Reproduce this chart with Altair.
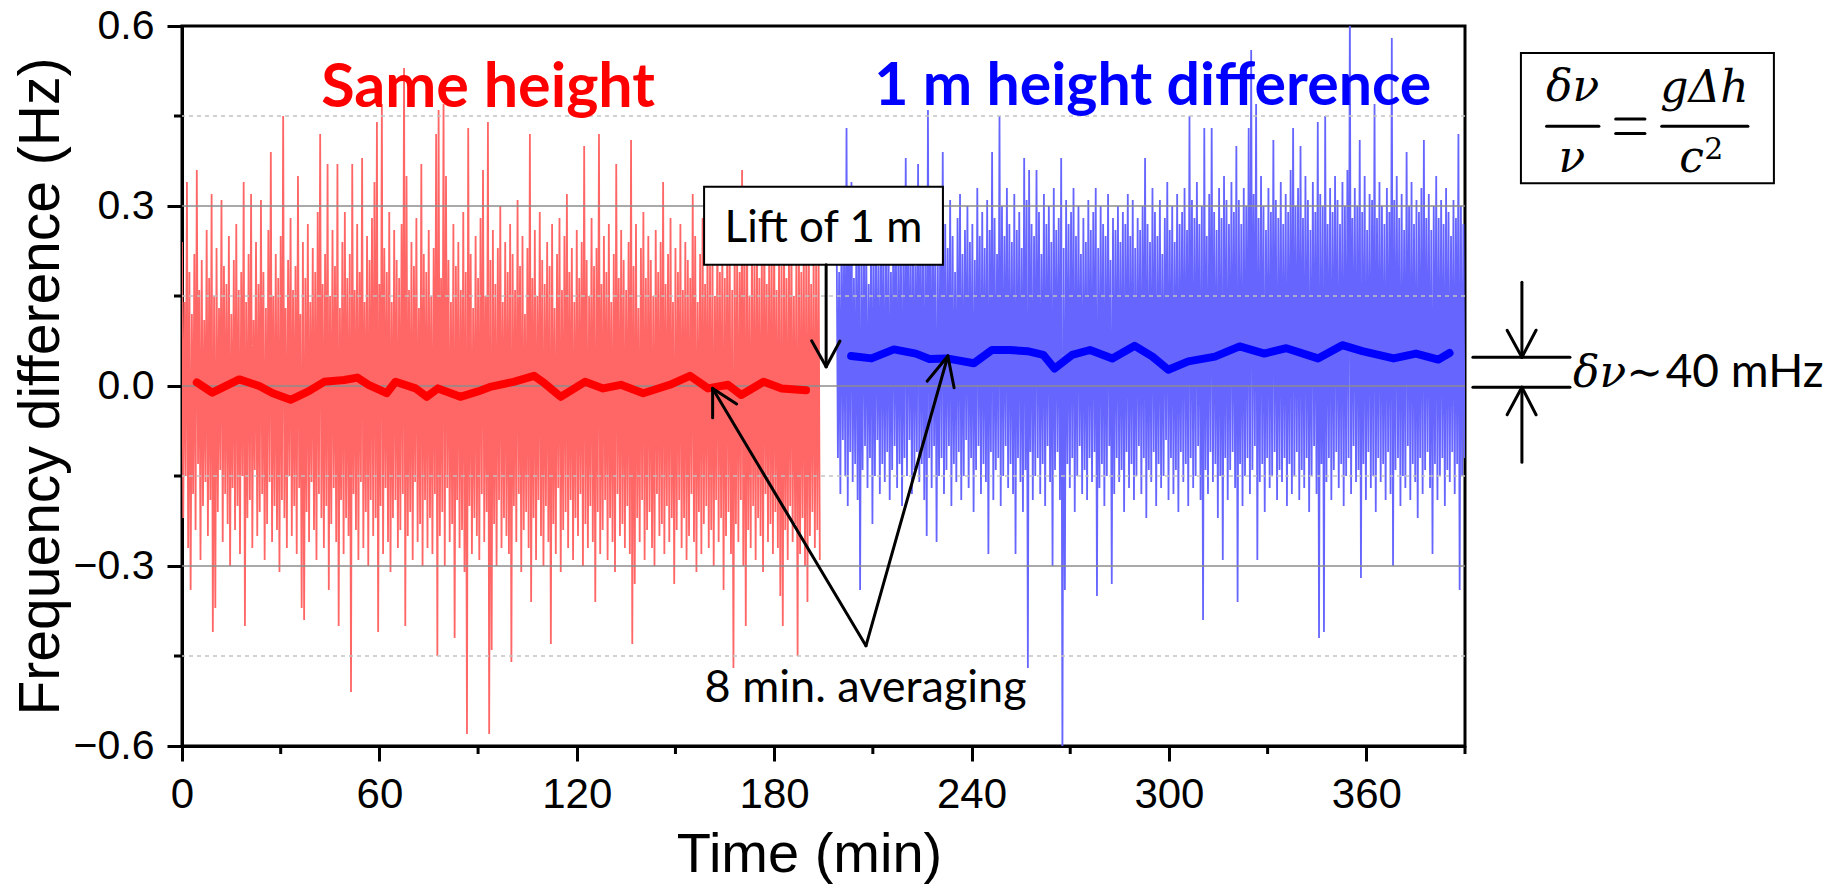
import altair as alt
import pandas as pd

# ---------------- data ----------------
# raw frequency difference, in units of 0.01 Hz; each step gives one high and one low excursion
red_t0 = 0.0
red_dt = 0.75
red_hi = [24, 14, 34, 19, 12, 22, 36, 16, 21, 11, 26, 18, 32, 15, 23, 13, 31, 20, 17, 25,
          12, 21, 27, 16, 19, 34, 14, 22, 32, 11, 24, 17, 31, 19, 13, 26, 39, 15, 22, 18,
          25, 45, 13, 21, 28, 16, 20, 35, 12, 24, 18, 27, 14, 23, 19, 29, 42, 17, 22, 37,
          15, 26, 20, 37, 13, 24, 29, 18, 22, 37, 16, 27, 19, 38, 14, 25, 21, 28, 34, 44,
          17, 47, 23, 19, 29, 14, 26, 21, 18, 27, 53, 35, 16, 24, 20, 28, 13, 37, 22, 19,
          26, 15, 23, 42, 46, 18, 47, 35, 21, 14, 27, 20, 24, 16, 29, 19, 43, 22, 13, 25,
          18, 28, 36, 15, 44, 21, 26, 17, 23, 30, 14, 24, 19, 27, 22, 16, 31, 20, 25, 12,
          23, 42, 18, 26, 15, 29, 21, 17, 24, 20, 27, 13, 22, 28, 16, 25, 32, 19, 23, 14,
          26, 18, 24, 40, 21, 15, 28, 20, 23, 42, 17, 25, 19, 27, 14, 22, 37, 18, 26, 21,
          16, 24, 41, 20, 27, 13, 23, 29, 18, 25, 21, 15, 26, 19, 24, 34, 17, 22, 28, 14,
          23, 19, 27, 16, 24, 21, 18, 32, 25, 14, 22, 28, 17, 26, 20, 23, 15, 29, 19, 24,
          18, 27, 21, 16, 25, 22, 19, 36, 23, 28, 15, 24, 20, 26, 18, 23, 29, 17, 25, 21,
          27, 16, 24, 20, 28, 18, 23, 26, 15, 22, 27, 19, 24, 21, 28, 17, 23, 20, 25]
red_lo = [-22, -15, -27, -34, -18, -24, -13, -29, -20, -16, -25, -19, -41, -37, -21, -14, -26, -18, -23, -30,
          -17, -24, -20, -28, -15, -40, -22, -19, -27, -14, -25, -21, -18, -29, -23, -16, -26, -20, -24, -31,
          -19, -22, -27, -15, -25, -20, -28, -17, -37, -39, -21, -26, -16, -24, -29, -18, -22, -27, -20, -34,
          -23, -17, -26, -40, -19, -28, -22, -25, -51, -18, -24, -29, -16, -27, -21, -30, -19, -25, -22, -41,
          -20, -28, -17, -26, -31, -22, -19, -27, -24, -18, -40, -25, -21, -29, -16, -26, -23, -30, -19, -27,
          -22, -28, -18, -45, -25, -21, -30, -17, -26, -23, -42, -19, -27, -24, -31, -58, -20, -28, -22, -25,
          -29, -18, -26, -21, -58, -44, -23, -30, -19, -27, -22, -25, -28, -46, -20, -26, -18, -31, -24, -21,
          -27, -36, -22, -29, -19, -25, -30, -20, -26, -43, -23, -28, -17, -31, -24, -21, -27, -19, -29, -22,
          -25, -18, -30, -23, -27, -20, -26, -36, -21, -28, -24, -19, -29, -22, -26, -31, -18, -25, -23, -27,
          -20, -28, -43, -33, -22, -26, -19, -29, -24, -21, -27, -30, -18, -25, -23, -28, -20, -26, -22, -33,
          -24, -19, -27, -22, -29, -25, -18, -26, -31, -21, -28, -23, -20, -27, -24, -30, -19, -26, -22, -34,
          -25, -21, -28, -47, -23, -26, -19, -30, -40, -24, -27, -20, -29, -22, -25, -31, -18, -26, -23, -28,
          -21, -27, -35, -40, -24, -29, -20, -26, -23, -45, -28, -22, -30, -36, -25, -21, -27, -24, -29]

blue_t0 = 199.0
blue_dt = 0.75
blue_hi = [25, 19, 30, 22, 43, 27, 34, 18, 26, 31, 21, 28, 24, 17, 29, 23, 27, 20, 30, 25,
           22, 28, 19, 31, 26, 24, 29, 21, 38, 27, 23, 30, 20, 37, 25, 28, 22, 46, 26, 30,
           24, 21, 29, 39, 27, 23, 31, 25, 19, 28, 32, 22, 26, 30, 24, 27, 21, 33, 25, 29,
           23, 31, 26, 39, 28, 22, 45, 30, 25, 33, 27, 24, 32, 26, 29, 23, 38, 31, 36, 27,
           25, 36, 29, 22, 32, 27, 30, 24, 33, 26, 28, 38, 23, 31, 27, 29, 33, 25, 30, 22,
           28, 24, 31, 26, 29, 33, 23, 30, 27, 25, 32, 21, 28, 26, 30, 24, 29, 27, 32, 25,
           31, 23, 28, 26, 30, 38, 27, 24, 33, 29, 25, 31, 22, 28, 34, 26, 30, 24, 32, 27,
           29, 33, 26, 45, 31, 28, 34, 27, 30, 43, 25, 32, 43, 29, 26, 33, 28, 35, 31, 27,
           34, 29, 40, 31, 27, 33, 30, 43, 56, 32, 47, 28, 35, 30, 26, 33, 29, 41, 31, 28,
           34, 27, 32, 29, 36, 43, 30, 33, 40, 28, 35, 31, 26, 34, 29, 44, 32, 30, 45, 27,
           33, 29, 35, 31, 27, 34, 30, 36, 62, 28, 33, 30, 41, 29, 35, 26, 32, 31, 47, 28,
           34, 30, 27, 33, 29, 58, 31, 35, 28, 32, 26, 39, 30, 34, 27, 31, 29, 33, 41, 28,
           32, 26, 30, 35, 28, 31, 27, 33, 29, 25, 31, 28, 42, 30, 27]
blue_lo = [-12, -18, -9, -15, -20, -11, -16, -13, -19, -34, -14, -10, -17, -12, -23, -15, -9, -18, -13, -16,
           -11, -19, -14, -10, -17, -13, -20, -12, -15, -9, -18, -14, -11, -16, -13, -19, -25, -12, -17, -10,
           -26, -15, -12, -18, -14, -10, -20, -13, -16, -11, -19, -15, -9, -17, -12, -21, -14, -10, -18, -13,
           -16, -28, -11, -19, -14, -12, -20, -15, -10, -17, -13, -18, -28, -12, -16, -21, -14, -47, -11, -19,
           -15, -12, -18, -13, -20, -10, -16, -30, -14, -11, -19, -62, -34, -13, -17, -12, -21, -15, -10, -18,
           -14, -19, -12, -16, -11, -35, -17, -13, -20, -15, -10, -33, -18, -12, -16, -14, -21, -11, -17, -13,
           -19, -15, -10, -18, -12, -22, -14, -16, -11, -20, -13, -17, -15, -9, -19, -12, -18, -14, -21, -11,
           -16, -13, -20, -12, -17, -15, -10, -19, -39, -14, -18, -11, -16, -13, -22, -15, -29, -12, -19, -14,
           -11, -17, -36, -13, -20, -15, -12, -18, -14, -10, -29, -16, -13, -21, -12, -17, -15, -11, -19, -14,
           -16, -12, -20, -13, -18, -15, -11, -19, -14, -17, -12, -21, -15, -10, -18, -42, -13, -41, -16, -12,
           -19, -14, -11, -17, -13, -20, -15, -12, -18, -10, -16, -14, -32, -13, -19, -11, -17, -15, -21, -12,
           -16, -13, -19, -11, -18, -30, -14, -12, -20, -15, -17, -10, -19, -13, -16, -22, -12, -18, -14, -11,
           -17, -28, -13, -19, -15, -12, -20, -14, -16, -11, -18, -13, -34, -15, -12]

# 8-minute running averages (Hz)
red_mean_t = [4.5, 9.2, 17.4, 23.5, 27.6, 33.0, 38.4, 43.2, 49.3, 53.3, 56.7, 62.2, 64.9, 71.0, 74.4,
              77.8, 84.6, 90.0, 94.0, 100.8, 107.0, 110.3, 115.1, 122.5, 128.0, 133.4, 140.2, 148.3,
              154.4, 159.9, 166.0, 170.0, 176.8, 182.3, 189.7]
red_mean_v = [0.006, -0.011, 0.011, 0.0, -0.012, -0.023, -0.009, 0.007, 0.010, 0.014, 0.002, -0.012,
              0.007, -0.004, -0.018, -0.004, -0.018, -0.009, -0.001, 0.007, 0.017, 0.004, -0.018, 0.007,
              -0.004, 0.002, -0.012, 0.002, 0.017, -0.004, 0.002, -0.015, 0.007, -0.004, -0.007]
blue_mean_t = [203.4, 209.6, 216.4, 223.1, 227.2, 232.5, 240.7, 246.2, 251.6, 257.0, 261.8, 265.2,
               270.6, 276.0, 282.8, 289.6, 295.0, 299.8, 305.9, 314.0, 321.5, 329.0, 335.7, 345.3,
               352.7, 358.8, 368.3, 375.1, 381.9, 385.3]
blue_mean_v = [0.050, 0.046, 0.061, 0.054, 0.045, 0.046, 0.038, 0.060, 0.060, 0.058, 0.052, 0.029,
               0.052, 0.060, 0.046, 0.067, 0.049, 0.027, 0.041, 0.049, 0.066, 0.054, 0.063, 0.046,
               0.068, 0.058, 0.046, 0.054, 0.044, 0.055]

# axis ticks
x_major = [0, 60, 120, 180, 240, 300, 360]
x_minor = [30, 90, 150, 210, 270, 330, 390]
y_major = [-0.6, -0.3, 0.0, 0.3, 0.6]
y_minor = [-0.45, -0.15, 0.15, 0.45]
grid_major = [-0.3, 0.0, 0.3]

# annotation anchors in data units (min, Hz)
label_same = {"t": 42.3, "v": 0.465, "s": "Same height"}
label_lift = {"t": 210.4, "v": 0.468, "s": "1 m height difference"}
lift_box = {"t": 158.7, "t2": 231.3, "v": 0.332, "v2": 0.202}
lift_text = {"t": 195.0, "v": 0.24, "s": "Lift of 1 m"}
avg_text = {"t": 207.8, "v": -0.527, "s": "8 min. averaging"}
formula_box = {"t": 407.0, "t2": 483.9, "v": 0.555, "v2": 0.338}
seg_x = [195.8, 191.4, 200.0, 207.9, 161.3, 168.6, 207.9, 226.5, 234.7,
         392.4, 392.4, 407.3, 402.8, 411.6, 407.3, 402.8, 411.6,
         414.8, 449.8, 435.8, 435.8]
seg_y = [0.202, 0.0755, 0.075, -0.433, -0.053, -0.030, -0.433, 0.008, -0.003,
         0.048, -0.002, 0.173, 0.093, 0.093, -0.127, -0.048, -0.048,
         0.433, 0.433, 0.445, 0.421]
seg_x2 = [195.8, 195.8, 195.8, 161.3, 161.3, 161.3, 232.8, 232.8, 232.8,
          421.9, 421.9, 407.3, 407.3, 407.3, 407.3, 407.3, 407.3,
          430.7, 476.0, 444.7, 444.7]
seg_y2 = [0.032, 0.032, 0.032, -0.004, -0.004, -0.004, 0.050, 0.050, 0.050,
          0.048, -0.002, 0.048, 0.048, 0.048, -0.002, -0.002, -0.002,
          0.433, 0.433, 0.445, 0.421]
math_t = [422.7, 422.5, 462.8, 458.9]
math_v = [0.475, 0.357, 0.474, 0.357]
math_s = ["δν", "ν", "gΔh", "c"]
sup = {"t": 465.6, "v": 0.379, "s": "2"}
dnu_sym = {"t": 422.8, "v": -0.002, "s": "δν∼"}
dnu_val = {"t": 451.0, "v": -0.002, "s": "40 mHz"}

# ---------------- tables ----------------
def raw_table(t0, dt, hi, lo):
    rows = []
    for i, (h, l) in enumerate(zip(hi, lo)):
        rows.append({"t": t0 + i * dt, "f": h / 100.0})
        rows.append({"t": t0 + i * dt + dt / 2.0, "f": l / 100.0})
    return pd.DataFrame(rows)

red_raw = raw_table(red_t0, red_dt, red_hi, red_lo)
blue_raw = raw_table(blue_t0, blue_dt, blue_hi, blue_lo)
red_mean = pd.DataFrame({"t": red_mean_t, "f": red_mean_v})
blue_mean = pd.DataFrame({"t": blue_mean_t, "f": blue_mean_v})
segs = pd.DataFrame({"x": seg_x, "y": seg_y, "x2": seg_x2, "y2": seg_y2})

XS = alt.Scale(domain=[0, 390], nice=False, zero=False)
YS = alt.Scale(domain=[-0.6, 0.6], nice=False, zero=False)
AX = "Liberation Sans"
CAL = "Lato"
MATH = "DejaVu Serif"

x_axis = alt.Axis(values=x_major, format="d", title="Time (min)", grid=False,
                  labelFont=AX, labelFontSize=42, labelColor="black", labelFlush=False,
                  labelOverlap=False, labelPadding=13, tickSize=15, tickWidth=3, tickColor="black",
                  domainColor="black", domainWidth=3, titleFont=AX, titleFontSize=56,
                  titleFontWeight="normal", titleColor="black", titleX=627, titleY=125,
                  titleBaseline="alphabetic", titleAlign="center")
y_axis = alt.Axis(values=y_major, format=".1f", title="Frequency difference (Hz)", grid=False,
                  labelFont=AX, labelFontSize=41, labelColor="black", labelOverlap=False,
                  labelPadding=13, tickSize=15, tickWidth=3, tickColor="black",
                  domainColor="black", domainWidth=3, titleFont=AX, titleFontSize=57,
                  titleFontWeight="normal", titleColor="black", titleX=-124, titleY=360,
                  titleBaseline="alphabetic", titleAlign="center", titleAngle=270)

def X(field="t"):
    return alt.X(f"{field}:Q", scale=XS, axis=x_axis)

def Y(field="v"):
    return alt.Y(f"{field}:Q", scale=YS, axis=y_axis)

raw_red_l = alt.Chart(red_raw).mark_line(color="#ff6666", strokeWidth=1.8, clip=True).encode(
    x=X(), y=Y("f"))
raw_blue_l = alt.Chart(blue_raw).mark_line(color="#6666ff", strokeWidth=1.8, clip=True).encode(
    x=X(), y=Y("f"))

minor_grid = alt.Chart(pd.DataFrame({"v": y_minor})).mark_rule(
    color="#c4c4c4", strokeWidth=1.5, strokeDash=[4, 4]).encode(y=Y())
major_grid = alt.Chart(pd.DataFrame({"v": grid_major})).mark_rule(
    color="#8c8c8c", strokeWidth=1.5).encode(y=Y())

mean_red_l = alt.Chart(red_mean).mark_line(color="#ff0000", strokeWidth=8, strokeCap="round",
                                           strokeJoin="round").encode(x=X(), y=Y("f"))
mean_blue_l = alt.Chart(blue_mean).mark_line(color="#0000ff", strokeWidth=8, strokeCap="round",
                                             strokeJoin="round").encode(x=X(), y=Y("f"))

def box(d):
    return alt.Chart(pd.DataFrame([d])).mark_rect(fill="white", stroke="black", strokeWidth=2).encode(
        x=X("t"), x2="t2:Q", y=Y("v"), y2="v2:Q")

def label(d, font, size, weight="normal", color="black", align="left", style="normal"):
    return alt.Chart(pd.DataFrame([d])).mark_text(
        font=font, fontSize=size, fontWeight=weight, color=color, align=align,
        baseline="alphabetic", fontStyle=style).encode(x=X("t"), y=Y("v"), text="s:N")

segments = alt.Chart(segs).mark_rule(color="black", strokeWidth=3, strokeCap="round").encode(
    x=X("x"), y=Y("y"), x2="x2:Q", y2="y2:Q")

math_l = alt.Chart(pd.DataFrame({"t": math_t, "v": math_v, "s": math_s})).mark_text(
    font=MATH, fontSize=44, fontStyle="italic", color="black", align="center",
    baseline="alphabetic").encode(x=X("t"), y=Y("v"), text="s:N")

minor_y_ticks = alt.Chart(pd.DataFrame({"v": y_minor})).mark_rule(
    color="black", strokeWidth=3).encode(y=Y(), x=alt.value(-8), x2=alt.value(0))
minor_x_ticks = alt.Chart(pd.DataFrame({"t": x_minor})).mark_rule(
    color="black", strokeWidth=3).encode(x=X(), y=alt.value(720), y2=alt.value(728))

chart = alt.layer(
    raw_red_l, raw_blue_l, minor_grid, major_grid, mean_red_l, mean_blue_l,
    label(label_same, CAL, 61, "bold", "#ff0000"),
    label(label_lift, CAL, 59, "bold", "#0000ff"),
    box(lift_box), label(lift_text, CAL, 44, align="center"),
    label(avg_text, CAL, 45, align="center"),
    box(formula_box), segments, math_l,
    label(sup, MATH, 30, align="center"),
    label(dnu_sym, MATH, 44, style="italic"),
    label(dnu_val, CAL, 46),
    minor_y_ticks, minor_x_ticks,
).properties(
    width=1283, height=720,
    padding={"left": 174, "top": 18, "right": 362, "bottom": 138},
    autosize=alt.AutoSizeParams(type="none"),
    background="white",
).configure_view(stroke="black", strokeWidth=3)

chart.save("out.html", embed_options={"renderer": "svg", "actions": False})
